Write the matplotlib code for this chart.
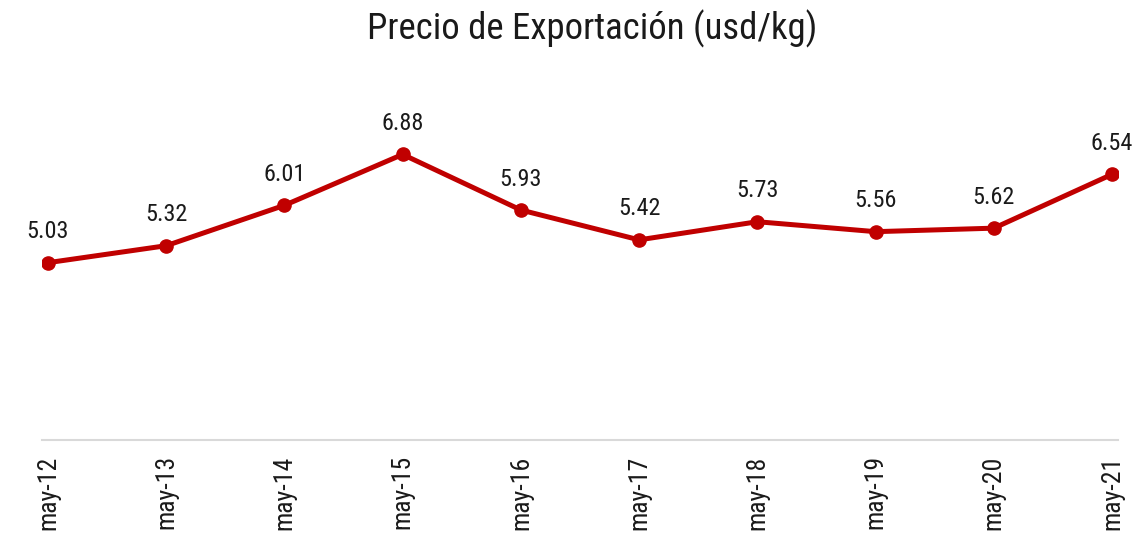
import matplotlib.pyplot as plt

plt.rcParams['font.family'] = ['Roboto Condensed', 'DejaVu Sans']

meses = ['may-12', 'may-13', 'may-14', 'may-15', 'may-16',
         'may-17', 'may-18', 'may-19', 'may-20', 'may-21']
precio = [5.03, 5.32, 6.01, 6.88, 5.93, 5.42, 5.73, 5.56, 5.62, 6.54]

rojo = '#C00000'

fig = plt.figure(figsize=(11.42, 5.40), dpi=100)
ax = fig.add_axes([42 / 1142, 100 / 540, 1076 / 1142, 340 / 540])

x = list(range(len(meses)))
ax.plot(x, precio, color=rojo, linewidth=3.6, marker='o', markersize=9.5,
        solid_capstyle='round', zorder=3)

for xi, v in zip(x, precio):
    ax.annotate('{:.2f}'.format(v), (xi, v), xytext=(0, 14), textcoords='offset points',
                ha='center', va='bottom', fontsize=17.5, color='#1a1a1a')

ax.set_xlim(-0.05, 9.05)
ax.set_ylim(2.0, 7.81)
ax.set_xticks(x)
ax.set_xticklabels(meses, rotation=90, fontsize=18.5, color='#1a1a1a', va='top')
ax.tick_params(axis='x', length=0, pad=11)
ax.set_yticks([])

for s in ['top', 'right', 'left']:
    ax.spines[s].set_visible(False)
ax.spines['bottom'].set_color('#D9D9D9')
ax.spines['bottom'].set_linewidth(1.5)

fig.text(592 / 1142, 1 - 39 / 540, 'Precio de Exportación (usd/kg)', ha='center', va='baseline',
         fontsize=26.5, color='#1a1a1a')

fig.savefig('out.png', dpi=100)
